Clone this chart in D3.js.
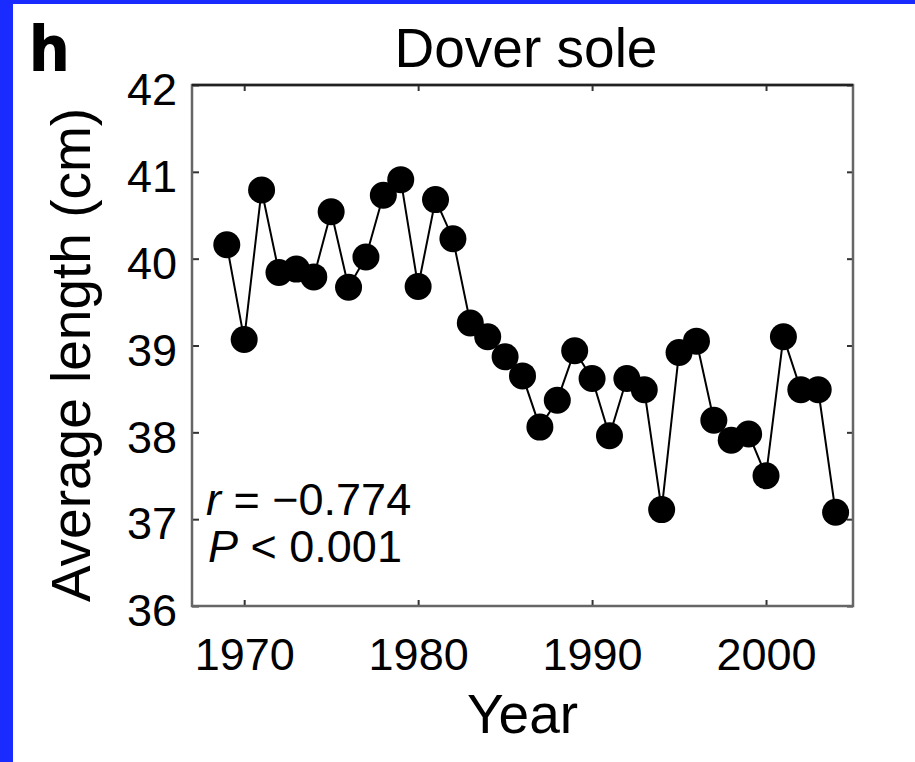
<!DOCTYPE html>
<html>
<head>
<meta charset="utf-8">
<script src="https://cdnjs.cloudflare.com/ajax/libs/d3/7.8.5/d3.min.js"></script>
<style>
	html, body { margin: 0; padding: 0; background: #fff; }
	svg { display: block; }
	text { font-family: "Liberation Sans", Arial, Helvetica, sans-serif; fill: #000; }
</style>
</head>
<body>
<script>
"use strict";

// Dover sole average length by year
var years = [1969, 1970, 1971, 1972, 1973, 1974, 1975, 1976, 1977, 1978, 1979, 1980,
	1981, 1982, 1983, 1984, 1985, 1986, 1987, 1988, 1989, 1990, 1991, 1992,
	1993, 1994, 1995, 1996, 1997, 1998, 1999, 2000, 2001, 2002, 2003, 2004];
var lengths = [40.16, 39.07, 40.79, 39.84, 39.88, 39.79, 40.54, 39.67, 40.02, 40.73, 40.91, 39.68,
	40.68, 40.23, 39.26, 39.10, 38.87, 38.65, 38.06, 38.37, 38.94, 38.62,
	37.96, 38.62, 38.49, 37.11, 38.92, 39.05, 38.14, 37.91, 37.98, 37.50,
	39.10, 38.49, 38.49, 37.08];
var xTicks = [1970, 1980, 1990, 2000];
var yTicks = [36, 37, 38, 39, 40, 41, 42];
var statLines = ["r", "P"];

var W = 915, H = 762;
var plot = {left: 192, top: 85, right: 853, bottom: 606};

var svg = d3.select('body').append('svg').attr('width', W).attr('height', H);

// blue page border (left and top)
svg.append('rect').attr('width', W).attr('height', H).attr('fill', '#1a2bff');
svg.append('rect').attr('x', 13).attr('y', 4).attr('width', W - 13).attr('height', H - 4).attr('fill', '#fff');

var x = d3.scaleLinear().domain([1967, 2005]).range([plot.left, plot.right]);
var y = d3.scaleLinear().domain([36, 42]).range([plot.bottom, plot.top]);

// axes, ticks pointing inward like the original
var gx = svg.append('g').attr('transform', 'translate(0,' + plot.bottom + ')')
	.call(d3.axisBottom(x).tickValues(xTicks).tickFormat(d3.format('d')).tickSize(-6).tickPadding(32));
var gy = svg.append('g').attr('transform', 'translate(' + plot.left + ',0)')
	.call(d3.axisLeft(y).tickValues(yTicks).tickFormat(d3.format('d')).tickSize(-7).tickPadding(15));
var gt = svg.append('g').attr('transform', 'translate(0,' + plot.top + ')')
	.call(d3.axisTop(x).tickValues(xTicks).tickFormat('').tickSize(-6));
var gr = svg.append('g').attr('transform', 'translate(' + plot.right + ',0)')
	.call(d3.axisRight(y).tickValues(yTicks).tickFormat('').tickSize(-6));

[gx, gy, gt, gr].forEach(function(g) {
	g.select('.domain').remove();
	g.selectAll('.tick line').attr('stroke', '#333').attr('stroke-width', 2);
	g.selectAll('.tick text').style('font-size', '45px').attr('fill', '#000');
});
gy.selectAll('.tick text').attr('dy', '0.44em');

// frame
svg.append('rect').attr('x', plot.left).attr('y', plot.top)
	.attr('width', plot.right - plot.left).attr('height', plot.bottom - plot.top)
	.attr('fill', 'none').attr('stroke', '#666').attr('stroke-width', 2.5);
svg.append('line').attr('x1', plot.left).attr('x2', plot.right)
	.attr('y1', plot.top).attr('y2', plot.top).attr('stroke', '#222').attr('stroke-width', 2.5);

// series line and dots
var pts = years.map(function(yr, i) { return [yr, lengths[i]]; });
var line = d3.line().x(function(d) { return x(d[0]); }).y(function(d) { return y(d[1]); });

svg.append('path').datum(pts).attr('d', line)
	.attr('fill', 'none').attr('stroke', '#000').attr('stroke-width', 2);

svg.append('g').selectAll('circle').data(pts).enter().append('circle')
	.attr('cx', function(d) { return x(d[0]); })
	.attr('cy', function(d) { return y(d[1]); })
	.attr('r', 13.5).attr('fill', '#000');

// titles and labels
svg.append('text').attr('x', 30).attr('y', 70)
	.style('font-size', '63px').style('font-weight', 'bold')
	.attr('stroke', '#000').attr('stroke-width', 2).text('h');

svg.append('text').attr('x', 526).attr('y', 67).attr('text-anchor', 'middle')
	.style('font-size', '55px').text('Dover sole');

svg.append('text').attr('x', (plot.left + plot.right) / 2).attr('y', 733).attr('text-anchor', 'middle')
	.style('font-size', '55px').text('Year');

svg.append('text').attr('transform', 'translate(90,' + 355 + ') rotate(-90)')
	.attr('text-anchor', 'middle').style('font-size', '55px').text('Average length (cm)');

// statistics
var stats = svg.append('g').style('font-size', '45px');
var t1 = stats.append('text').attr('x', 206).attr('y', 515);
t1.append('tspan').style('font-style', 'italic').text(statLines[0]);
t1.append('tspan').text(' = \u22120.774');
var t2 = stats.append('text').attr('x', 208).attr('y', 562);
t2.append('tspan').style('font-style', 'italic').text(statLines[1]);
t2.append('tspan').text(' < 0.001');
</script>
</body>
</html>
